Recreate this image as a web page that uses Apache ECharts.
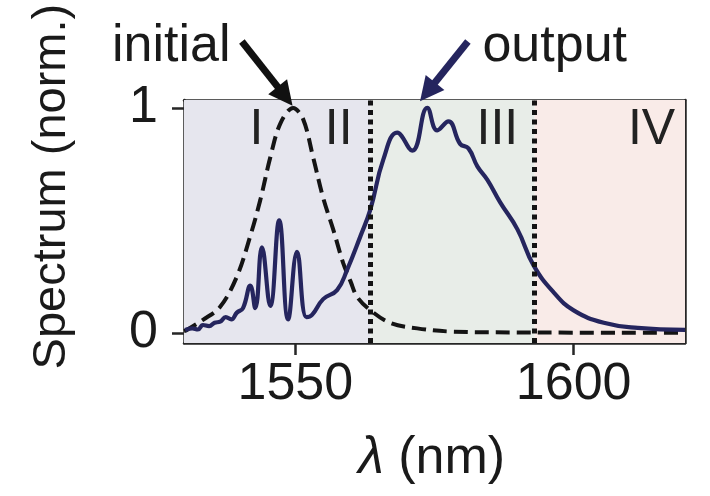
<!DOCTYPE html>
<html>
<head>
<meta charset="utf-8">
<script src="https://cdn.jsdelivr.net/npm/echarts@6/dist/echarts.min.js"></script>
<style>
html,body{margin:0;padding:0;background:#fff;}
#c{width:710px;height:496px;}
</style>
</head>
<body>
<div id="c"></div>
<script>
// ---- data ----
const initialWavelength = [1530,1530.5,1533.4,1536.5,1539.5,1541.9,1543.7,1545.5,1547.3,1549.6,1551.4,1553.2,1555.0,1556.8,1558.6,1559.9,1561.1,1563.5,1567.1,1571.9,1577.8,1590,1620];
const initialSpectrum   = [0.008,0.013,0.058,0.116,0.25,0.43,0.59,0.78,0.93,1.0,0.95,0.78,0.6,0.46,0.31,0.23,0.16,0.1,0.044,0.02,0.006,0.002,0.0];

const outputWavelength = [1530.2,1531.5,1532.5,1533.4,1534.5,1535.5,1536.5,1537.5,1538.5,1539.5,1540.6,1541.9,1542.8,1544.0,1545.5,1547.1,1548.7,1550.3,1552.0,1553.0,1555.0,1557.5,1559.3,1561.7,1563.5,1565.8,1568.3,1571.0,1573.7,1575.5,1577.5,1579.6,1581.1,1582.7,1584.5,1586.8,1589.9,1592.8,1596.4,1600,1605.4,1611.5,1620];
const outputSpectrum   = [0.013,0.02,0.015,0.035,0.03,0.045,0.05,0.07,0.06,0.09,0.11,0.21,0.11,0.38,0.12,0.5,0.06,0.36,0.07,0.08,0.15,0.19,0.28,0.43,0.55,0.77,0.89,0.81,1.0,0.9,0.94,0.84,0.82,0.74,0.68,0.58,0.46,0.3,0.18,0.1,0.045,0.022,0.013];

const xTicks = [1550, 1600];
const yTicks = [0, 1];
const regionBounds = [1530, 1563.5, 1593, 1620];
const regionNames = ['I', 'II', 'III', 'IV'];
const regionLabelX = [1543, 1557.8, 1586.3, 1614.0];
const regionLabelY = 0.9;
const dividerLines = [1563.5, 1593];
const annotations = [
  {text: 'initial', tail: [1540.4, 1.295], tip: [1549.5, 1.01], textAt: [1527.7, 1.27], color: '#111111'},
  {text: 'output', tail: [1581.0, 1.295], tip: [1572.4, 1.03], textAt: [1596.6, 1.27], color: '#25255e'}
];

// ---- chart ----
const FONT = '"Liberation Sans", Arial, sans-serif';
const AXC = '#262626';
const TXT = '#1a1a1a';
const chart = echarts.init(document.getElementById('c'), null, {renderer: 'canvas'});

const zip = (a, b) => a.map((v, i) => [v, b[i]]);
const regionColors = ['#e6e6ee', '#e8ede8', '#f9ebe8'];

const option = {
  animation: false,
  backgroundColor: '#ffffff',
  grid: {left: 184, right: 25, top: 100, bottom: 153, containLabel: false},
  xAxis: [{
    type: 'value', min: 1530, max: 1620, position: 'bottom',
    splitLine: {show: false},
    axisLine: {show: true, onZero: false, lineStyle: {color: AXC, width: 2.5}},
    axisTick: {show: true, customValues: xTicks, length: 12, inside: false, lineStyle: {color: AXC, width: 2.5}},
    axisLabel: {customValues: xTicks, formatter: v => String(v), fontSize: 52, color: TXT, fontFamily: FONT, margin: 16}
  }, {
    type: 'value', min: 1530, max: 1620, position: 'top',
    splitLine: {show: false},
    axisLine: {show: true, onZero: false, lineStyle: {color: AXC, width: 2.5}},
    axisTick: {show: false}, axisLabel: {show: false}
  }],
  yAxis: [{
    type: 'value', min: -0.045, max: 1.035, position: 'left',
    splitLine: {show: false},
    axisLine: {show: true, onZero: false, lineStyle: {color: AXC, width: 2.5}},
    axisTick: {show: true, customValues: yTicks, length: 12, lineStyle: {color: AXC, width: 2.5}},
    axisLabel: {customValues: yTicks, formatter: v => String(v), fontSize: 52, color: TXT, fontFamily: FONT, margin: 26}
  }, {
    type: 'value', min: -0.045, max: 1.035, position: 'right',
    splitLine: {show: false},
    axisLine: {show: true, onZero: false, lineStyle: {color: AXC, width: 2.5}},
    axisTick: {show: false}, axisLabel: {show: false}
  }],
  series: [
    {
      type: 'line', name: 'regions', data: [], silent: true,
      markArea: {
        silent: true,
        data: regionColors.map((c, i) => [
          {xAxis: regionBounds[i], itemStyle: {color: c}},
          {xAxis: regionBounds[i + 1]}
        ])
      },
      markLine: {
        silent: true, symbol: 'none',
        label: {show: false},
        lineStyle: {type: [5, 4.5], width: 5, color: '#141414', cap: 'butt'},
        data: dividerLines.map(v => ({xAxis: v}))
      }
    },
    {
      type: 'line', name: 'initial', data: zip(initialWavelength, initialSpectrum),
      showSymbol: false, smooth: 0.35, z: 3,
      lineStyle: {color: '#141414', width: 4, type: [14, 7]}
    },
    {
      type: 'line', name: 'output', data: zip(outputWavelength, outputSpectrum),
      showSymbol: false, smooth: 0.45, z: 4,
      lineStyle: {color: '#25255e', width: 4.2}
    }
  ]
};
chart.setOption(option);

const px = (p) => chart.convertToPixel({xAxisIndex: 0, yAxisIndex: 0}, p);
const graphics = [];
// region labels
regionNames.forEach((n, i) => {
  const p = px([regionLabelX[i], regionLabelY]);
  graphics.push({type: 'text', z: 100, x: p[0], y: p[1], style: {
    text: n, fontSize: 50, fontFamily: FONT, fill: '#222222', align: 'center', verticalAlign: 'middle'
  }});
});
// y axis title
const yt = px([1530, 0.65]);
graphics.push({type: 'text', z: 100, x: 52, y: yt[1], rotation: Math.PI / 2, style: {
  text: 'Spectrum (norm.)', fontSize: 47, fontFamily: FONT, fill: TXT, align: 'center', verticalAlign: 'middle'
}});
// x axis title
const xt = px([1574.5, -0.56]);
graphics.push({type: 'text', z: 100, x: xt[0], y: xt[1], style: {
  rich: {l: {fontStyle: 'italic', fontSize: 52, fontFamily: FONT, fill: TXT},
         r: {fontSize: 52, fontFamily: FONT, fill: TXT}},
  text: '{l|λ}{r| (nm)}', align: 'center', verticalAlign: 'middle'
}});
// arrows
annotations.forEach(a => {
  const t = px(a.tail), h = px(a.tip), tp = px(a.textAt);
  const dx = h[0] - t[0], dy = h[1] - t[1];
  const L = Math.hypot(dx, dy), ux = dx / L, uy = dy / L;
  const headLen = 24, headW = 12;
  const bx = h[0] - ux * headLen, by = h[1] - uy * headLen;
  graphics.push({type: 'line', z: 100, shape: {x1: t[0], y1: t[1], x2: bx + ux * 2, y2: by + uy * 2},
    style: {stroke: a.color, lineWidth: 7}});
  graphics.push({type: 'polygon', z: 100, shape: {points: [
    [h[0], h[1]], [bx - uy * headW, by + ux * headW], [bx + uy * headW, by - ux * headW]
  ]}, style: {fill: a.color}});
  graphics.push({type: 'text', z: 100, x: tp[0], y: tp[1], style: {
    text: a.text, fontSize: 52, fontFamily: FONT, fill: TXT, align: 'center', verticalAlign: 'middle'
  }});
});
chart.setOption({graphic: graphics});
</script>
</body>
</html>
